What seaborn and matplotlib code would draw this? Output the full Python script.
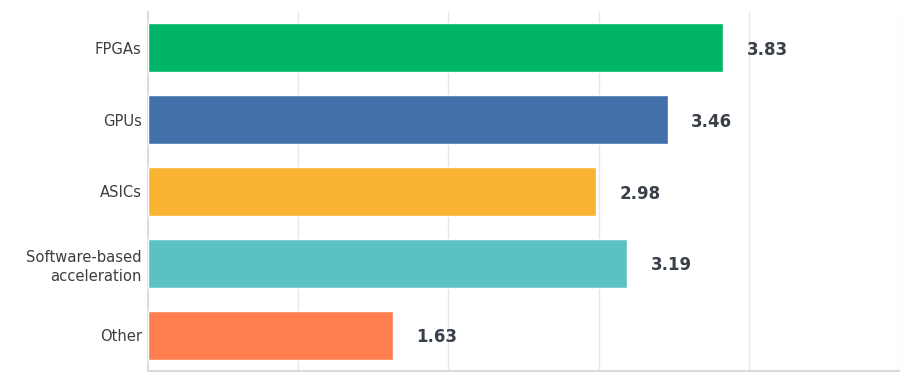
import matplotlib
matplotlib.use("Agg")
import matplotlib.pyplot as plt
import seaborn as sns
import pandas as pd

categories = ["FPGAs", "GPUs", "ASICs", "Software-based\nacceleration", "Other"]
values = [3.83, 3.46, 2.98, 3.19, 1.63]
colors = ["#00b567", "#4270a8", "#f9b331", "#5cc1c4", "#ff7e4e"]

sns.set_theme(style="white")
plt.rcParams["font.family"] = ["DejaVu Sans"]

df = pd.DataFrame({"category": categories, "value": values})

fig = plt.figure(figsize=(9.11, 3.81), dpi=100)
ax = fig.add_axes([148 / 911, 10 / 381, 751 / 911, 359 / 381])

sns.barplot(data=df, x="value", y="category", hue="category", palette=colors,
            legend=False, width=0.68, saturation=1, ax=ax, zorder=3)

ax.set_xlim(0, 5)
ax.set_ylim(4.5, -0.5)
ax.set_xticks([0, 1, 2, 3, 4, 5])
ax.set_xticklabels([])
ax.grid(axis="x", color="#e6e6e6", linewidth=1, zorder=0)
ax.tick_params(axis="both", length=0)
ax.tick_params(axis="y", pad=4.5, labelsize=10.6, labelcolor="#3d3d3d")
for lbl in ax.get_yticklabels():
    lbl.set_linespacing(1.35)
ax.set_xlabel("")
ax.set_ylabel("")
for s in ["top", "right"]:
    ax.spines[s].set_visible(False)
ax.spines["left"].set_color("#d9d9d9")
ax.spines["bottom"].set_color("#d9d9d9")
ax.spines["left"].set_linewidth(1.2)
ax.spines["bottom"].set_linewidth(1.5)

for i, v in enumerate(values):
    ax.annotate(f"{v:.2f}", xy=(v, i), xytext=(17, -1.5), textcoords="offset points",
                va="center", ha="left", fontsize=12, fontweight="bold", color="#3a4049")

fig.savefig("out.png", dpi=100)
